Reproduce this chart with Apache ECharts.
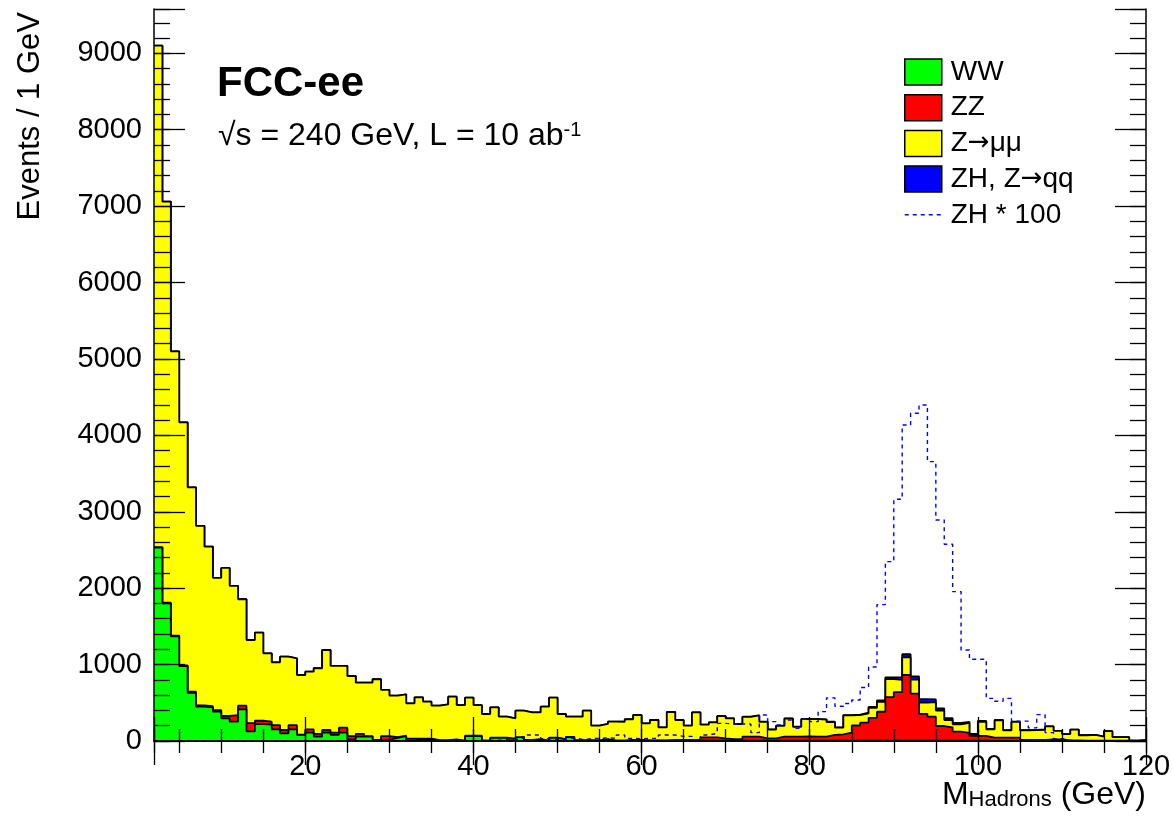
<!DOCTYPE html>
<html>
<head>
<meta charset="utf-8">
<script src="https://cdn.jsdelivr.net/npm/echarts@6.0.0/dist/echarts.min.js"></script>
<style>
html,body{margin:0;padding:0;background:#fff;}
#c{width:1173px;height:817px;}
</style>
</head>
<body>
<div id="c"></div>
<script>
// ---- binning (1 GeV bins starting at 2 GeV) ----
const binStart = 2;
const binWidth = 1;

// ---- stacked components, events per bin ----
const WW = [2530,1800,1370,980,630,450,440,385,297,253,
  415,125,220,215,153,100,153,79,109,57,
  109,79,109,22,57,57,5,15,40,65,
  5,25,25,5,5,15,3,65,65,3,
  40,40,5,50,8,5,3,40,20,50,
  5,5,3,3,3,3,8,8,3,3,
  3,3,3,3,3,3,3,3,3,3,
  3,3,3,3,3,3,3,3,3,3,
  3,3,3,3,3,3,3,3,3,3,
  3,3,3,3,3,3,3,3,3,2,
  2,2,2,2,2,2,2,2,2,2,
  2,2,2,2,1,1,0,0];

const ZZ = [8,10,10,10,15,15,15,20,30,87,
  47,110,45,38,56,44,56,3,44,35,
  35,30,66,43,35,8,8,50,9,5,
  25,5,5,5,5,5,3,5,5,3,
  5,5,25,5,5,20,3,5,5,5,
  5,5,5,20,3,3,5,5,5,5,
  5,10,10,10,10,45,45,32,20,20,
  55,55,32,32,55,55,55,58,55,55,
  76,85,106,200,237,300,380,572,637,861,
  617,352,315,193,176,120,103,63,63,42,
  42,42,42,12,12,12,20,20,7,7,
  4,4,4,4,2,2,0,0];

const Zmumu = [6562,5250,3720,3180,2675,2350,2090,1730,1938,1690,
  1393,1087,1153,895,821,959,873,782,754,860,
  1047,873,807,786,671,698,795,603,546,540,
  463,542,485,453,470,560,464,498,400,347,
  396,273,267,342,361,349,443,523,328,263,
  308,387,193,200,247,246,271,327,223,267,
  170,366,261,187,362,165,195,290,272,198,
  258,276,215,115,141,236,128,224,227,222,
  168,87,226,137,123,132,129,235,161,230,
  182,149,191,203,95,95,132,15,185,110,
  226,94,206,127,128,133,169,111,81,141,
  69,73,51,124,47,47,4,12];

// ZH signal scaled by 100 (dashed curve); the stacked ZH is this / 100
const ZH100 = [0,0,0,0,0,0,0,0,0,0,
  0,0,0,0,0,0,0,0,0,0,
  5,5,5,5,5,5,5,5,5,5,
  5,5,5,5,5,5,5,5,5,5,
  10,15,20,40,79,79,30,20,30,40,
  20,30,35,40,35,79,35,30,35,35,
  79,79,61,61,10,79,100,231,223,223,
  223,109,340,253,209,275,166,284,253,384,
  565,455,490,537,700,968,1785,2347,3163,4136,
  4289,4398,3656,2893,2575,1955,1191,1069,1069,558,
  520,558,260,260,172,345,110,30,10,5,
  0,0,0,0,0,0,0,0];
const ZHscale = 100;

const xTickLabels = [20, 40, 60, 80, 100, 120];
const yTickLabels = [0, 1000, 2000, 3000, 4000, 5000, 6000, 7000, 8000, 9000];

const seriesNames = ['WW', 'ZZ', 'Z\u2192\u03bc\u03bc', 'ZH, Z\u2192qq', 'ZH * 100'];
const seriesColors = ['#00ff00', '#ff0000', '#ffff00', '#0000ff', '#0000ff'];

// ---- build step data (points at bin low edges + closing edge) ----
const ZH = ZH100.map(v => v / ZHscale);
function stepData(vals) {
  const d = vals.map((v, i) => [binStart + i * binWidth, v]);
  d.push([binStart + vals.length * binWidth, vals[vals.length - 1]]);
  return d;
}
// cumulative stack (THStack style: each layer drawn from 0 up to its running sum)
const components = [WW, ZZ, Zmumu, ZH];
const cumulative = [];
components.forEach((arr, k) => {
  cumulative.push(arr.map((v, i) => v + (k > 0 ? cumulative[k - 1][i] : 0)));
});

const FONT = '"Liberation Sans", Arial, Helvetica, sans-serif';

function stackSeries(idx) {
  return {
    name: seriesNames[idx], type: 'line', step: 'end',
    data: stepData(cumulative[idx]), symbol: 'none', showSymbol: false,
    lineStyle: { color: '#000', width: 1.8 },
    areaStyle: { color: seriesColors[idx], opacity: 1, origin: 'start' },
    itemStyle: { color: seriesColors[idx] },
    z: 6 - idx, clip: true
  };
}

const xMin = 2, xMax = 120, yMin = 0, yMax = 9580;
const tickLine = { color: '#000', width: 1.3 };
const frameLine = { show: true, lineStyle: { color: '#000', width: 1.5 } };

function xAxisDef(pos, major, showLine, showLabel) {
  const step = major ? 20 : 5;
  return {
    type: 'value', position: pos, min: xMin, max: xMax,
    minInterval: step, maxInterval: step,
    splitLine: { show: false },
    axisLine: showLine ? frameLine : { show: false },
    axisTick: { show: true, inside: true, length: major ? 24 : 12, lineStyle: tickLine },
    minorTick: { show: false },
    axisLabel: showLabel ? {
      show: true, fontSize: 29, color: '#000', fontFamily: FONT, margin: 11,
      formatter: v => (xTickLabels.indexOf(v) >= 0 ? String(v) : '')
    } : { show: false },
    z: 10
  };
}
function yAxisDef(pos, major, showLine, showLabel) {
  return {
    type: 'value', position: pos, min: yMin, max: yMax,
    interval: major ? 1000 : 200,
    splitLine: { show: false },
    axisLine: showLine ? frameLine : { show: false },
    axisTick: { show: true, inside: true, length: major ? 31 : 16, lineStyle: tickLine },
    minorTick: { show: false },
    axisLabel: showLabel ? {
      show: true, fontSize: 29, color: '#000', fontFamily: FONT, margin: 12,
      formatter: v => (yTickLabels.indexOf(v) >= 0 ? String(v) : '')
    } : { show: false },
    z: 10
  };
}

const chart = echarts.init(document.getElementById('c'), null, { renderer: 'canvas', width: 1173, height: 817 });

const ARROW_FONT = '"DejaVu Sans", sans-serif';
const option = {
  animation: false,
  backgroundColor: '#ffffff',
  textStyle: { fontFamily: FONT },
  grid: { left: 154, right: 27, top: 9, bottom: 76, containLabel: false, outerBoundsMode: 'none' },
  xAxis: [
    xAxisDef('bottom', true, true, true),
    xAxisDef('bottom', false, false, false),
    xAxisDef('top', true, true, false),
    xAxisDef('top', false, false, false)
  ],
  yAxis: [
    yAxisDef('left', true, true, true),
    yAxisDef('left', false, false, false),
    yAxisDef('right', true, true, false),
    yAxisDef('right', false, false, false)
  ],
  legend: {
    orient: 'vertical', left: 904, top: 58, padding: 0,
    itemWidth: 37, itemHeight: 26, itemGap: 7.7, selectedMode: false,
    formatter: name => '{t|' + name.split('\u2192').join('}{a|\u2192}{t|') + '}',
    textStyle: { fontSize: 28, color: '#000', fontFamily: FONT, padding: [0, 0, 0, 4],
      rich: { t: { fontSize: 28, fontFamily: FONT, color: '#000' },
              a: { fontSize: 26, fontFamily: ARROW_FONT, color: '#000' } } },
    data: [
      { name: seriesNames[0], icon: 'rect', itemStyle: { color: seriesColors[0], borderColor: '#000', borderWidth: 1.5 } },
      { name: seriesNames[1], icon: 'rect', itemStyle: { color: seriesColors[1], borderColor: '#000', borderWidth: 1.5 } },
      { name: seriesNames[2], icon: 'rect', itemStyle: { color: seriesColors[2], borderColor: '#000', borderWidth: 1.5 } },
      { name: seriesNames[3], icon: 'rect', itemStyle: { color: seriesColors[3], borderColor: '#000', borderWidth: 1.5 } },
      { name: seriesNames[4], itemStyle: { color: 'rgba(0,0,0,0)', borderWidth: 0, opacity: 0 },
        lineStyle: { color: seriesColors[4], width: 1.4, type: [4, 4] } }
    ]
  },
  series: [
    stackSeries(0),
    stackSeries(1),
    stackSeries(2),
    stackSeries(3),
    {
      name: seriesNames[4], type: 'line', step: 'end', data: stepData(ZH100),
      symbol: 'none', showSymbol: false,
      lineStyle: { color: seriesColors[4], width: 1.4, type: [4, 4] },
      itemStyle: { color: seriesColors[4] },
      z: 7, clip: true
    }
  ],
  graphic: [
    { type: 'text', x: 217, y: 84, z: 20,
      style: { text: 'FCC-ee', fontSize: 42, fontWeight: 'bold', fontFamily: FONT, fill: '#000', verticalAlign: 'middle' } },
    { type: 'text', x: 218, y: 136, z: 20,
      style: { text: '{m|\u221as = 240 GeV, L = 10 ab}{sup|-1}', fill: '#000', verticalAlign: 'middle', fontFamily: FONT,
        rich: { m: { fontSize: 32, lineHeight: 32, fontFamily: FONT, fill: '#000' },
                sup: { fontSize: 20, lineHeight: 12, verticalAlign: 'top', fontFamily: FONT, fill: '#000' } } } },
    { type: 'text', x: 1146, y: 795, z: 20,
      style: { text: '{m|M}{s|Hadrons}{m| (GeV)}', fill: '#000', align: 'right', verticalAlign: 'middle', fontFamily: FONT,
        rich: { m: { fontSize: 32, lineHeight: 32, fontFamily: FONT, fill: '#000' },
                s: { fontSize: 22, lineHeight: 12, verticalAlign: 'bottom', fontFamily: FONT, fill: '#000' } } } },
    { type: 'text', x: 30, y: 12, rotation: Math.PI / 2, z: 20,
      style: { text: 'Events / 1 GeV', fontSize: 31, fontFamily: FONT, fill: '#000', align: 'right', verticalAlign: 'middle' } }
  ]
};
chart.setOption(option);
</script>
</body>
</html>
